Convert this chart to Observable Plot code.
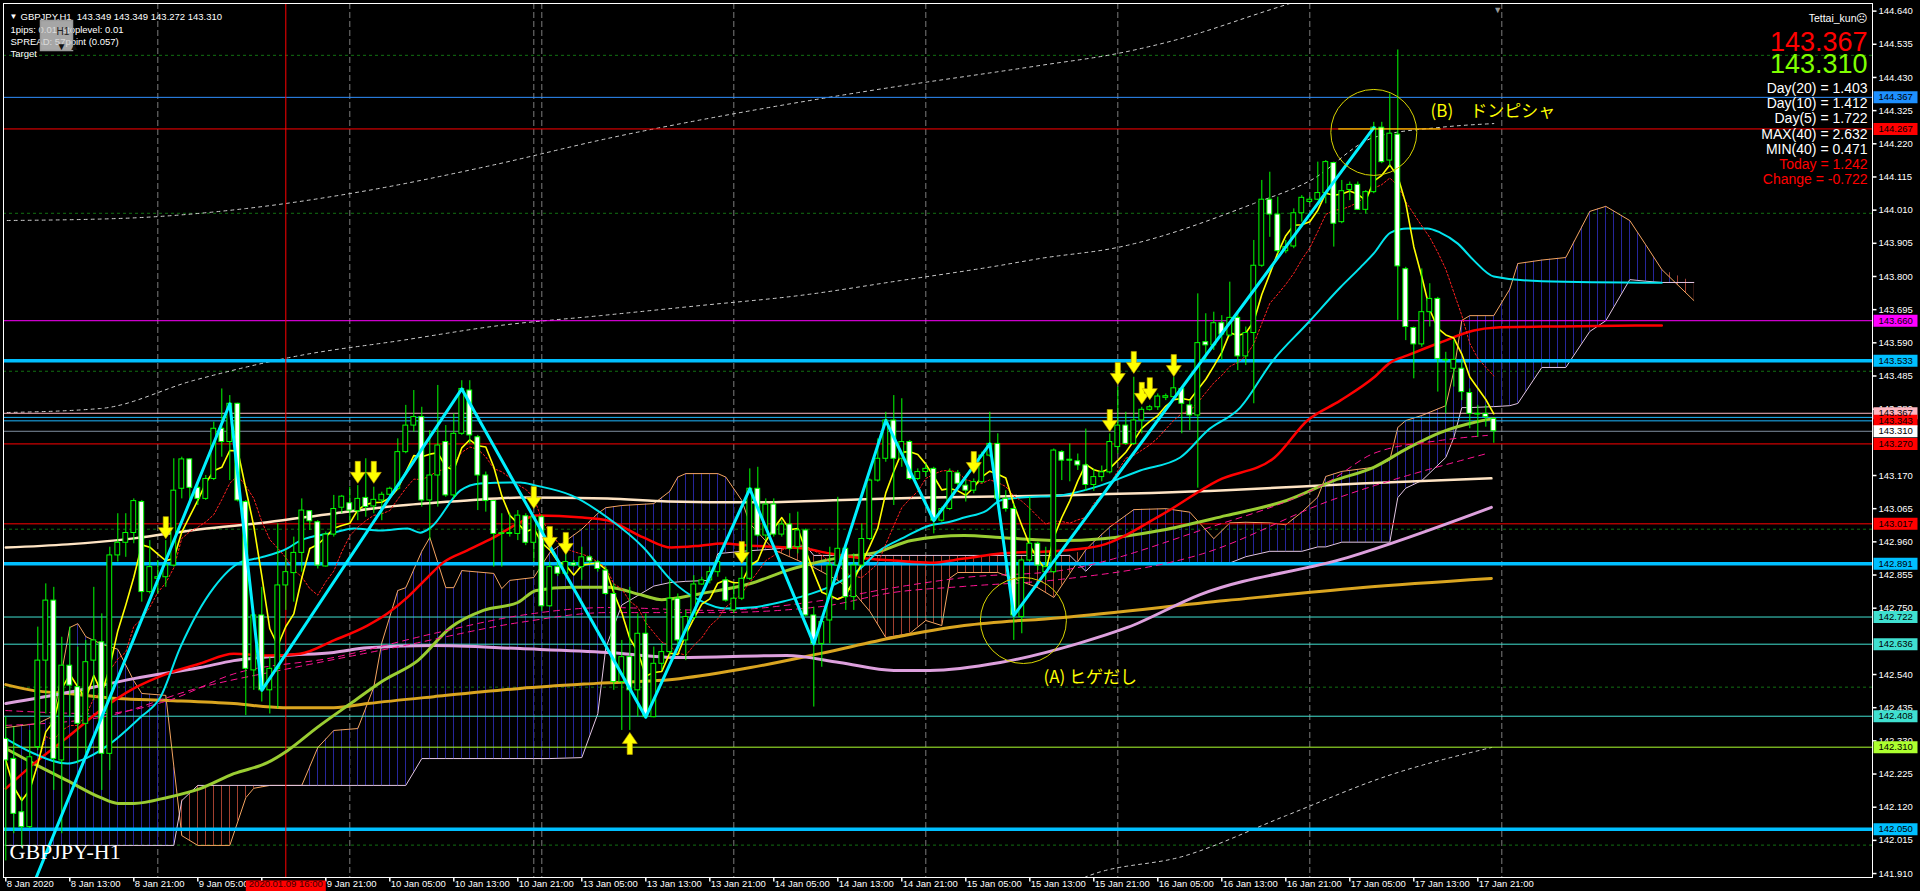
<!DOCTYPE html>
<html><head><meta charset="utf-8">
<script src="https://cdn.jsdelivr.net/npm/d3@7"></script>
<script src="https://cdn.jsdelivr.net/npm/@observablehq/plot@0.6"></script>
<style>
html,body{margin:0;padding:0;background:#000;overflow:hidden;}
#chart svg{display:block;}
</style></head><body>
<svg width="0" height="0" style="position:absolute">
<defs>
<pattern id="hatchBlue" patternUnits="userSpaceOnUse" x="5" y="0" width="8" height="8"><rect x="0" y="0" width="1" height="8" fill="#26269a"/></pattern>
<pattern id="hatchRed" patternUnits="userSpaceOnUse" x="5" y="0" width="8" height="8"><rect x="0" y="0" width="1" height="8" fill="#a2402f"/></pattern>
</defs></svg>
<div id="chart"></div>
<script>
// ---------- candle data (bar 0 = 8 Jan 05:00, hourly) ----------
const opens = [
142.336,142.273,142.104,142.057,142.310,142.584,142.774,142.268,142.568,142.500,
142.384,142.584,142.642,142.289,142.917,142.957,142.988,143.086,142.801,142.843,
142.848,142.885,143.128,143.221,143.131,143.096,143.159,143.318,143.276,143.397,
143.086,142.553,142.727,142.490,142.558,142.822,142.861,142.925,143.057,143.022,
142.882,142.983,143.068,143.082,143.057,143.099,143.072,143.091,143.109,143.128,
143.244,143.328,143.355,143.091,143.170,143.276,143.107,143.302,143.439,143.291,
143.170,143.089,142.985,142.985,142.985,143.041,142.957,143.038,142.756,142.880,
142.859,142.892,142.880,142.911,142.895,142.869,142.795,142.516,142.595,142.490,
142.669,142.405,142.574,142.611,142.780,142.648,142.719,142.825,142.838,142.864,
142.838,142.743,142.780,142.843,143.128,142.980,143.078,142.983,143.015,142.943,
142.996,142.727,142.637,142.711,142.885,142.938,142.785,142.885,142.969,143.154,
143.223,143.344,143.223,143.276,143.159,143.181,143.191,143.027,143.064,143.177,
143.138,143.122,143.149,143.233,143.270,143.096,143.064,142.722,142.901,142.954,
142.864,142.864,143.244,143.220,143.215,143.202,143.140,143.165,143.180,143.260,
143.328,143.270,143.344,143.378,143.386,143.416,143.418,143.444,143.392,143.360,
143.592,143.582,143.652,143.613,143.669,143.547,143.621,143.834,144.043,143.996,
143.880,143.895,144.000,144.036,144.043,144.064,144.159,143.972,144.074,144.090,
144.011,144.067,144.271,144.167,144.249,143.823,143.637,143.585,143.687,143.729,
143.536,143.508,143.508,143.431,143.365,143.365,143.349];
const highs = [
142.405,142.373,142.152,142.363,142.690,142.827,142.816,142.658,142.690,142.627,
142.648,142.816,142.732,142.943,143.049,143.049,143.096,143.091,142.964,142.901,
142.964,143.223,143.228,143.223,143.144,143.170,143.339,143.444,143.423,143.399,
143.091,142.732,142.816,142.595,143.017,142.932,142.975,143.096,143.059,143.027,
142.991,143.107,143.107,143.133,143.138,143.223,143.133,143.117,143.133,143.286,
143.392,143.439,143.386,143.312,143.455,143.328,143.365,143.470,143.470,143.297,
143.181,143.091,143.049,143.049,143.059,143.049,143.043,143.045,142.896,142.900,
142.922,142.901,142.943,142.917,142.901,142.880,142.827,142.648,142.816,142.732,
142.732,142.627,142.637,142.838,142.795,142.743,142.853,142.848,142.880,142.911,
142.848,142.827,142.880,143.191,143.196,143.096,143.096,143.027,143.049,143.054,
143.001,142.753,142.711,142.943,143.101,142.954,142.922,143.017,143.159,143.286,
143.370,143.423,143.413,143.281,143.191,143.207,143.196,143.070,143.191,143.186,
143.154,143.159,143.244,143.370,143.302,143.122,143.080,142.906,143.101,142.959,
142.943,143.254,143.249,143.270,143.238,143.317,143.190,143.200,143.302,143.450,
143.370,143.481,143.386,143.392,143.428,143.428,143.481,143.450,143.407,143.745,
143.682,143.687,143.676,143.782,143.692,143.640,143.914,144.104,144.130,144.051,
143.914,144.014,144.056,144.051,144.162,144.167,144.162,144.104,144.099,144.099,
144.072,144.288,144.288,144.378,144.517,143.829,143.640,143.824,143.777,143.734,
143.560,143.597,143.534,143.444,143.392,143.392,143.349];
const lows = [
141.950,142.036,141.990,142.052,142.299,142.415,142.173,142.036,142.405,142.257,
142.289,142.458,142.173,142.236,142.896,142.911,142.954,142.769,142.795,142.795,
142.816,142.880,143.096,143.091,143.075,143.091,143.154,143.228,143.154,143.086,
142.410,142.490,142.453,142.415,142.431,142.743,142.769,142.864,142.996,142.874,
142.880,142.975,143.049,143.027,143.027,143.038,143.049,143.027,143.101,143.122,
143.239,143.307,143.070,142.964,143.070,143.101,143.096,143.297,143.270,143.059,
143.054,142.880,142.880,142.975,142.964,142.948,142.896,142.740,142.753,142.850,
142.853,142.880,142.838,142.890,142.864,142.790,142.490,142.363,142.363,142.405,
142.403,142.403,142.553,142.595,142.627,142.584,142.711,142.822,142.827,142.848,
142.769,142.732,142.774,142.838,142.975,142.964,142.975,142.975,142.932,142.922,
142.722,142.437,142.563,142.637,142.880,142.743,142.743,142.880,142.964,143.149,
143.212,143.075,143.196,143.154,143.154,143.165,142.985,143.022,143.059,143.133,
143.086,143.112,143.144,143.228,143.091,143.054,142.648,142.669,142.896,142.869,
142.838,142.859,143.154,143.150,143.186,143.120,143.120,143.150,143.175,143.238,
143.265,143.265,143.302,143.374,143.376,143.407,143.413,143.302,143.312,143.130,
143.534,143.566,143.534,143.608,143.502,143.518,143.397,143.829,143.924,143.872,
143.872,143.888,143.972,144.030,144.040,144.030,143.893,143.967,144.040,144.009,
143.998,144.062,144.157,144.146,143.661,143.597,143.476,143.576,143.640,143.434,
143.365,143.450,143.407,143.318,143.291,143.323,143.272];
const closes = [
142.268,142.099,142.057,142.278,142.584,142.774,142.273,142.568,142.505,142.384,
142.579,142.648,142.289,142.917,142.957,142.988,143.089,142.801,142.880,142.848,
142.885,143.122,143.221,143.131,143.096,143.159,143.318,143.276,143.397,143.091,
142.558,142.727,142.490,142.558,142.822,142.864,142.925,143.059,143.025,142.885,
142.983,143.064,143.103,143.059,143.096,143.070,143.093,143.109,143.128,143.244,
143.328,143.355,143.091,143.170,143.265,143.107,143.302,143.444,143.297,143.170,
143.089,142.985,142.987,142.988,143.043,142.957,143.038,142.756,142.880,142.859,
142.896,142.885,142.911,142.898,142.874,142.795,142.516,142.595,142.490,142.669,
142.405,142.574,142.611,142.780,142.648,142.722,142.825,142.838,142.864,142.896,
142.774,142.780,142.843,143.128,142.980,143.078,142.983,143.015,142.938,142.996,
142.727,142.637,142.706,142.885,142.938,142.785,142.885,142.969,143.154,143.223,
143.344,143.223,143.276,143.159,143.181,143.191,143.027,143.064,143.181,143.144,
143.122,143.149,143.233,143.270,143.096,143.064,142.727,142.901,142.954,142.885,
142.880,143.249,143.217,143.217,143.202,143.140,143.165,143.180,143.276,143.328,
143.270,143.344,143.378,143.386,143.420,143.421,143.446,143.397,143.360,143.589,
143.582,143.652,143.616,143.669,143.547,143.621,143.834,144.043,143.996,143.880,
143.893,144.000,144.049,144.043,144.064,144.162,143.967,144.070,144.090,144.011,
144.067,144.271,144.162,144.252,143.832,143.640,143.585,143.687,143.729,143.539,
143.534,143.536,143.434,143.365,143.363,143.355,143.310];

// ---------- indicator lines: [bar, price] ----------
const maCyan = [[0,142.337],[3.5,142.290],[7.7,142.258],[10.2,142.277],[13.1,142.322],[16.8,142.404],[19.3,142.467],[21.8,142.625],[26,142.815],[29.3,142.895],[31.8,142.910],[35.2,142.939],[36.8,142.964],[41,142.989],[43.5,143.002],[46.8,142.996],[50.2,143.002],[51.8,142.989],[53.1,143.005],[56.8,143.122],[59.3,143.145],[64.3,143.148],[66.3,143.138],[70.7,143.107],[75.2,143.037],[79.7,142.942],[83.2,142.838],[86.8,142.774],[90,142.749],[93.1,142.752],[97.6,142.774],[100.7,142.796],[103.8,142.828],[106.5,142.869],[109.2,142.932],[112.3,142.974],[115.5,143.012],[117.6,143.021],[119.8,143.037],[122.6,143.059],[124.3,143.091],[126.9,143.100],[131.8,143.107],[136.8,143.138],[141.8,143.186],[146.8,143.227],[150.2,143.312],[154.3,143.385],[158.4,143.534],[162.7,143.651],[166.8,143.765],[169.3,143.828],[171,143.873],[173.1,143.939],[175.2,143.952],[177.7,143.952],[179.3,143.939],[181.5,143.904],[183.5,143.851],[186,143.800],[192,143.785],[207,143.780]];
const maRed = [[0,142.179],[3.5,142.258],[7.7,142.341],[11.8,142.426],[16,142.496],[20.2,142.543],[24.3,142.575],[28.5,142.606],[32.7,142.600],[36.8,142.606],[41,142.648],[45.2,142.695],[47.7,142.733],[50.2,142.784],[52.7,142.847],[54.7,142.895],[57.7,142.933],[61,142.974],[64,143.018],[66.3,143.043],[72.1,143.037],[75.2,143.028],[79.7,142.974],[83.2,142.942],[86.8,142.948],[89.5,142.955],[93.1,142.948],[99.8,142.939],[103,142.923],[106.5,142.910],[111,142.901],[115.5,142.894],[119.8,142.907],[124.3,142.923],[131.8,142.932],[136.8,142.948],[144.3,143.043],[151.5,143.154],[158.6,143.227],[162.7,143.344],[166.8,143.407],[171,143.480],[173.1,143.528],[175.2,143.550],[179.3,143.591],[183.5,143.629],[186,143.638],[194.3,143.642],[207,143.645]];
const maYellowGreen = [[0,142.306],[3.5,142.258],[7.7,142.204],[11.8,142.151],[14,142.132],[16,142.132],[20.2,142.151],[24.3,142.179],[28.5,142.226],[32.7,142.261],[35.2,142.299],[38.9,142.372],[43.1,142.448],[47.2,142.521],[51.5,142.584],[55.6,142.689],[59.7,142.743],[64,142.768],[66.3,142.806],[70.7,142.816],[75.2,142.816],[79.7,142.790],[82,142.777],[86.8,142.796],[93.1,142.828],[97.6,142.869],[99.8,142.885],[104.2,142.910],[108.7,142.926],[113.2,142.964],[119.8,142.980],[124.3,142.974],[128.8,142.967],[131.8,142.964],[137.1,142.970],[144.3,142.996],[152.5,143.043],[160.1,143.091],[166,143.154],[171,143.196],[175.2,143.256],[179.3,143.306],[183.5,143.338],[186,143.350]];
const maCream = [[0,142.942],[7.7,142.952],[16,142.971],[24.3,143.000],[32.7,143.022],[41,143.050],[49.3,143.075],[57.7,143.091],[64.3,143.100],[75.2,143.097],[82.8,143.088],[93.1,143.085],[106.5,143.094],[115.5,143.100],[131.8,143.107],[152.5,143.123],[169.3,143.145],[185.7,143.161]];
const maOrange = [[0,142.508],[3.5,142.489],[7.7,142.480],[14,142.464],[20.2,142.458],[28.5,142.448],[34.7,142.435],[41,142.435],[45.2,142.448],[53.5,142.470],[64.3,142.496],[73.8,142.512],[84.2,142.527],[93.1,142.562],[101.9,142.607],[111,142.657],[119.8,142.695],[131.8,142.720],[152.5,142.774],[169.3,142.815],[185.7,142.844]];
const maViolet = [[0,142.448],[7.7,142.483],[16,142.527],[24.3,142.562],[28.5,142.584],[34.7,142.600],[41,142.610],[45.2,142.625],[53.5,142.632],[64.3,142.622],[75.2,142.610],[84.2,142.594],[97.6,142.600],[104.2,142.578],[111,142.553],[115.5,142.553],[124.3,142.578],[134,142.638],[140.2,142.689],[149.3,142.793],[167.7,142.910],[185.7,143.069]];
const maPink1 = [[0,142.426],[11.8,142.416],[20.2,142.457],[28.5,142.542],[41,142.594],[53.5,142.670],[64.3,142.727],[75.2,142.752],[88.6,142.743],[101.9,142.774],[111,142.815],[119.8,142.847],[131.8,142.869],[149.3,142.996],[165.6,143.154],[171,143.240],[179.3,143.281],[185.2,143.297]];
const maPink2 = [[0,142.379],[11.8,142.404],[24.3,142.499],[36.8,142.566],[49.3,142.629],[64.3,142.705],[75.2,142.736],[88.6,142.736],[101.9,142.755],[111,142.800],[119.8,142.819],[131.8,142.841],[149.3,142.920],[165.6,143.091],[185.2,143.240]];
const envTop = [[-0.7,143.977],[14.6,143.984],[30,144.015],[45.2,144.072],[60.6,144.151],[75.8,144.240],[91.2,144.316],[106.5,144.382],[129.3,144.468],[139,144.506],[146,144.547],[158.5,144.648],[165,144.700]];
const envMid = [[-0.7,143.369],[11.8,143.382],[23.5,143.471],[36.8,143.550],[49.3,143.597],[61.8,143.645],[74.3,143.676],[86.8,143.708],[99.3,143.740],[111.8,143.787],[124.3,143.835],[129.3,143.857],[139,143.892],[156,144.031],[163.1,144.104],[171,144.240],[179.3,144.272],[186,144.284]];
const envBot = [[133,141.850],[134.8,141.897],[147.5,141.967],[160.1,142.094],[172.8,142.220],[185.7,142.309]];
const zigzag = [[-1,141.600],[28,143.397],[32,142.490],[57,143.444],[80,142.405],[93,143.128],[101,142.637],[110,143.344],[116,143.027],[123,143.270],[126,142.727],[171,144.271]];

// Ichimoku cloud (span A / span B)
const cloudBars = [0,4,6,8,9,10,12,14,16,17,20,21,22,24,28,30,31,33,37,39,41,44,46,47,49,50,52,53,55,56,57,61,62,63,66,68,72,74,75,77,81,83,84,85,88,89,90,92,93,96,100,101,104,106,108,110,113,115,117,118,119,124,129,131,133,135,136,138,141,145,148,151,153,155,158,160,162,164,165,167,171,173,174,175,177,180,181,182,183,186,188,189,192,195,198,200,203,205,207,211];
const spanA = [142.372,142.385,142.410,142.689,142.701,142.660,142.636,142.620,142.520,142.480,142.474,142.250,142.030,141.999,141.999,142.150,142.180,142.189,142.189,142.309,142.363,142.369,142.500,142.640,142.806,142.815,142.930,142.974,142.815,142.815,142.869,142.860,142.812,142.838,142.847,142.926,143.000,143.050,143.068,143.075,143.081,143.120,143.165,143.176,143.176,143.176,143.165,143.091,143.018,142.935,142.890,142.879,142.838,142.800,142.740,142.657,142.670,142.711,142.695,142.845,142.863,142.863,142.815,142.784,142.860,142.935,142.960,143.007,143.062,143.065,143.054,142.970,143.020,143.022,143.020,143.014,143.054,143.102,143.167,143.183,143.196,143.219,143.322,143.344,143.360,143.391,143.500,143.661,143.676,143.676,143.760,143.841,143.852,143.860,144.006,144.022,143.977,143.900,143.822,143.724];
const spanB = [141.999,141.999,141.999,141.999,141.999,141.999,141.999,141.999,141.999,141.999,141.999,141.999,142.141,142.189,142.189,142.189,142.189,142.189,142.189,142.189,142.189,142.189,142.189,142.189,142.189,142.189,142.274,142.274,142.274,142.274,142.274,142.274,142.274,142.274,142.274,142.274,142.277,142.416,142.625,142.760,142.820,142.831,142.833,142.835,142.838,142.923,142.925,142.930,142.932,142.937,142.948,142.917,142.917,142.917,142.917,142.917,142.917,142.917,142.917,142.917,142.917,142.917,142.917,142.917,142.917,142.867,142.893,142.893,142.893,142.893,142.893,142.893,142.893,142.913,142.930,142.930,142.930,142.944,142.944,142.959,142.959,142.959,143.100,143.130,143.154,143.227,143.290,143.385,143.385,143.388,143.391,143.398,143.512,143.512,143.626,143.660,143.790,143.785,143.781,143.781];

// ---------- objects ----------
const hLevels = [144.367,144.267,143.660,143.533,143.367,143.354,143.343,143.310,143.270,143.017,142.891,142.722,142.636,142.408,142.310,142.050];
const hKinds  = ["dodger","red","magenta","thick","pink","sky","sky","grey","red","red","thick","turq","turq","turq","lime","thick"];
const labelLevels = [144.367,144.267,143.660,143.533,143.367,143.343,143.310,143.270,143.017,142.891,142.722,142.636,142.408,142.310,142.050];
const labelKinds  = ["dodger","red","magenta","thick","pink","red","white","red","red","thick","turq","turq","turq","lime","thick"];
const priceTicks = [141.910,142.015,142.120,142.225,142.330,142.435,142.540,142.750,142.855,142.960,143.065,143.170,143.380,143.485,143.590,143.695,143.800,143.905,144.010,144.115,144.220,144.325,144.430,144.535,144.640];
const gridPrices = [142.0,142.5,143.0,143.5,144.0,144.5];
const daySeparators = [19,43,66,67,91,115,139,163,187];
const timeTickBars = [0,8,16,24,32,40,48,56,64,72,80,88,96,104,112,120,128,136,144,152,160,168,176,184];
const timeLabels = ["8 Jan 2020","8 Jan 13:00","8 Jan 21:00","9 Jan 05:00","","9 Jan 21:00","10 Jan 05:00","10 Jan 13:00","10 Jan 21:00","13 Jan 05:00","13 Jan 13:00","13 Jan 21:00","14 Jan 05:00","14 Jan 13:00","14 Jan 21:00","15 Jan 05:00","15 Jan 13:00","15 Jan 21:00","16 Jan 05:00","16 Jan 13:00","16 Jan 21:00","17 Jan 05:00","17 Jan 13:00","17 Jan 21:00"];
const markedBar = 35; const markedLabel = "2020.01.09 16:00";
const arrowDownBars = [20,44,46,66,68,70,92,121,138,139,141,142,143,146];
const arrowDownPrices = [143.005,143.180,143.180,143.100,142.974,142.955,142.926,143.211,143.344,143.493,143.528,143.430,143.445,143.518];
const arrowUpBars = [78]; const arrowUpPrices = [142.322];
const circles = [[171,144.256],[127.2,142.711]];
const yellowSegment = [[166.6,144.267],[179.3,144.267]];
const notes = [{bar:178.1, price:144.322, text:"(B)\u3000ドンピシャ"},{bar:129.7, price:142.530, text:"(A) ヒゲだし"}];
const headerLines = ["GBPJPY,H1\u00a0\u00a0143.349 143.349 143.272 143.310","1pips: 0.01\u00a0\u00a0stoplevel: 0.01","SPREAD: 57point (0.057)","Target"];
const infoLines = ["Day(20) = 1.403","Day(10) = 1.412","Day(5) = 1.722","MAX(40) = 2.632","MIN(40) = 0.471","Today = 1.242","Change = -0.722"];
const infoRed = [false,false,false,false,false,true,true];
const askText = "143.367", bidText = "143.310", userText = "Tettai_kun\u2639", symbolText = "GBPJPY-H1";

// ---------- styles ----------
const lineStyle = {dodger:"#2f8fff", red:"#ff0000", magenta:"#ff00ff", thick:"#00bfff", pink:"#ffb6c1", sky:"#1fb8ff", grey:"#8090a0", turq:"#40e0d0", lime:"#adff2f"};
const boxStyle = {dodger:"#1e90ff", red:"#ff0000", magenta:"#ff00ff", thick:"#00bfff", pink:"#ffb6c1", white:"#ffffff", turq:"#40e0d0", lime:"#adff2f"};
const SANS = "Liberation Sans, Arial, sans-serif";

const candles = opens.map((o,i)=>({i, o, h:highs[i], l:lows[i], c:closes[i]}));
const cloud = cloudBars.map((b,i)=>({bar:b, a:spanA[i], b2:spanB[i]}));
const hLines = hLevels.map((p,i)=>({p, k:hKinds[i]}));
const pLabels = labelLevels.map((p,i)=>({p, k:labelKinds[i]}));
const arrowsDown = arrowDownBars.map((b,i)=>[b, arrowDownPrices[i]]);
const arrowsUp = arrowUpBars.map((b,i)=>[b, arrowUpPrices[i]]);
const timeTicks = timeTickBars.map((b,i)=>({b, t:timeLabels[i]}));

const box = (w,h)=>({draw(ctx){ctx.moveTo(-w/2,-h/2);ctx.lineTo(w/2,-h/2);ctx.lineTo(w/2,h/2);ctx.lineTo(-w/2,h/2);ctx.closePath();}});
const hTick = {draw(ctx){ctx.moveTo(0,0);ctx.lineTo(4,0);}};
const vTick = {draw(ctx){ctx.moveTo(0,0);ctx.lineTo(0,4);}};
const arrowDown = {draw(ctx){ctx.moveTo(-2.6,-11);ctx.lineTo(2.6,-11);ctx.lineTo(2.6,0);ctx.lineTo(7.5,0);ctx.lineTo(0,11);ctx.lineTo(-7.5,0);ctx.lineTo(-2.6,0);ctx.closePath();}};
const arrowUp = {draw(ctx){ctx.moveTo(-2.6,11);ctx.lineTo(2.6,11);ctx.lineTo(2.6,0);ctx.lineTo(7.5,0);ctx.lineTo(0,-11);ctx.lineTo(-7.5,0);ctx.lineTo(-2.6,0);ctx.closePath();}};

const X = d=>d[0], Y = d=>d[1];
const maLine = (data, stroke, w, extra={}) => Plot.line(data, {x:X, y:Y, stroke, strokeWidth:w, curve:"monotone-x", clip:true, ...extra});

const marks = [
  Plot.ruleY(gridPrices, {y:d=>d, stroke:"#127012", strokeDasharray:"3,3"}),
  Plot.ruleX(daySeparators, {x:d=>d, stroke:"#7c7c7c", strokeDasharray:"6,3"}),
  Plot.areaY(cloud, {x:"bar", y1:"b2", y2:d=>Math.max(d.a,d.b2), fill:"url(#hatchBlue)", clip:true}),
  Plot.areaY(cloud, {x:"bar", y1:"a", y2:d=>Math.max(d.a,d.b2), fill:"url(#hatchRed)", clip:true}),
  Plot.line(cloud, {x:"bar", y:"a", stroke:"#f4a460", strokeWidth:1, clip:true}),
  Plot.line(cloud, {x:"bar", y:"b2", stroke:"#e3c6e3", strokeWidth:1, clip:true}),
  maLine(envTop, "#cfcfcf", 1, {strokeDasharray:"3,4"}),
  maLine(envMid, "#cfcfcf", 1, {strokeDasharray:"3,4"}),
  maLine(envBot, "#cfcfcf", 1, {strokeDasharray:"3,4"}),
  Plot.ruleY(hLines, {filter:d=>d.k!=="thick", y:"p", stroke:d=>lineStyle[d.k], strokeWidth:1}),
  Plot.ruleY(hLines, {filter:d=>d.k==="thick", y:"p", stroke:d=>lineStyle[d.k], strokeWidth:3.5}),
  Plot.ruleX([markedBar], {x:d=>d, stroke:"#ff0000", strokeWidth:1}),
  maLine(maOrange, "#daa520", 3),
  maLine(maViolet, "#dda0dd", 3),
  maLine(maCream, "#ffe4c4", 2.5),
  maLine(maYellowGreen, "#9acd32", 3),
  maLine(maPink1, "#ff1493", 1, {strokeDasharray:"6,5"}),
  maLine(maPink2, "#ff1493", 1, {strokeDasharray:"6,5"}),
  maLine(maRed, "#ff0000", 2.5),
  maLine(maCyan, "#00e5ee", 2),
  Plot.line(candles, Plot.windowY({k:10, anchor:"end", reduce:"mean"}, {x:"i", y:"c", stroke:"#ff2020", strokeWidth:1, strokeDasharray:"2,2", clip:true})),
  Plot.line(candles, Plot.windowY({k:5, anchor:"end", reduce:"mean"}, {x:"i", y:"c", stroke:"#ffff00", strokeWidth:1.6, clip:true})),
  Plot.ruleX(candles, {x:"i", y1:"l", y2:"h", stroke:"#00ff00", strokeWidth:1, clip:true}),
  Plot.rect(candles, {filter:d=>d.c>=d.o, x1:d=>d.i-0.3, x2:d=>d.i+0.3, y1:"o", y2:"c", fill:"#000", stroke:"#00ff00", strokeWidth:1, clip:true}),
  Plot.rect(candles, {filter:d=>d.c<d.o, x1:d=>d.i-0.3, x2:d=>d.i+0.3, y1:"o", y2:"c", fill:"#fff", stroke:"#00ff00", strokeWidth:1, clip:true}),
  Plot.line(zigzag, {x:X, y:Y, stroke:"#00f0ff", strokeWidth:3, clip:true}),
  Plot.dot(arrowsDown, {x:X, y:Y, symbol:arrowDown, fill:"#ffff00", stroke:"#c8a800", strokeWidth:0.6}),
  Plot.dot(arrowsUp, {x:X, y:Y, symbol:arrowUp, fill:"#ffff00", stroke:"#c8a800", strokeWidth:0.6}),
  Plot.line(yellowSegment, {x:X, y:Y, stroke:"#ffff00", strokeWidth:1}),
  Plot.dot(circles, {x:X, y:Y, r:43, stroke:"#d8d400", strokeWidth:1, fill:"none"}),
  Plot.text(notes, {x:"bar", y:"price", text:"text", textAnchor:"start", fill:"#ffff00", fontSize:17, fontFamily:"Noto Sans CJK JP, sans-serif"}),
  Plot.frame({stroke:"#ffffff", strokeWidth:1}),
  // right price axis
  Plot.dot(priceTicks, {y:d=>d, frameAnchor:"right", symbol:hTick, stroke:"#fff", fill:"none"}),
  Plot.text(priceTicks, {y:d=>d, text:d=>d.toFixed(3), frameAnchor:"right", dx:6, textAnchor:"start", fill:"#fff", fontSize:9.5, fontFamily:SANS}),
  Plot.dot(pLabels, {y:"p", frameAnchor:"right", dx:23, symbol:box(44,12), fill:d=>boxStyle[d.k], stroke:"none"}),
  Plot.text(pLabels, {y:"p", text:d=>d.p.toFixed(3), frameAnchor:"right", dx:6, textAnchor:"start", fill:"#000", fontSize:9.5, fontFamily:SANS}),
  // bottom time axis
  Plot.dot(timeTicks, {x:"b", frameAnchor:"bottom", symbol:vTick, stroke:"#fff", fill:"none"}),
  Plot.text(timeTicks, {filter:d=>d.t!=="", x:"b", text:"t", frameAnchor:"bottom", dy:9, dx:1, textAnchor:"start", fill:"#fff", fontSize:9.5, fontFamily:SANS}),
  Plot.dot([markedBar], {x:d=>d, frameAnchor:"bottom", dy:9, symbol:box(80,12), fill:"#ff0000", stroke:"none"}),
  Plot.text([markedLabel], {x:()=>markedBar, text:d=>d, frameAnchor:"bottom", dy:9, fill:"#400000", fontSize:9.5, fontFamily:SANS}),
  Plot.text(["\u25bc"], {x:()=>186.5, frameAnchor:"top", dy:3, fill:"#9a9a9a", fontSize:9}),
  // header (top-left)
  Plot.text(["\u25bc"], {frameAnchor:"top-left", dx:6, dy:10, fill:"#fff", fontSize:8, fontFamily:SANS}),
  ...headerLines.map((t,i)=>Plot.text([t], {frameAnchor:"top-left", dx: i===0?17:7, dy:10+12.3*i, textAnchor:"start", fill:"#fff", fontSize:9.5, fontFamily:SANS})),
  Plot.dot([0], {frameAnchor:"top-left", dx:53, dy:32, symbol:box(32,30), fill:"#cfcfcf", fillOpacity:0.8, stroke:"#9a9a9a"}),
  Plot.text(["H1"], {frameAnchor:"top-left", dx:53, dy:24, fill:"#222", fontSize:10, fontFamily:SANS}),
  Plot.text(["\u25bc \u25b2"], {frameAnchor:"top-left", dx:53, dy:39, fill:"#111", fontSize:10, fontFamily:SANS}),
  // info (top-right)
  Plot.text([userText], {frameAnchor:"top-right", dx:-5, dy:11, textAnchor:"end", fill:"#fff", fontSize:10.5, fontFamily:SANS}),
  Plot.text([askText], {frameAnchor:"top-right", dx:-5, dy:28, textAnchor:"end", fill:"#ff0000", fontSize:27, fontFamily:SANS}),
  Plot.text([bidText], {frameAnchor:"top-right", dx:-5, dy:50.5, textAnchor:"end", fill:"#7fff00", fontSize:27, fontFamily:SANS}),
  ...infoLines.map((t,i)=>Plot.text([t], {frameAnchor:"top-right", dx:-5, dy:79.5+15.2*i, textAnchor:"end", fill: infoRed[i]?"#ff0000":"#fff", fontSize:14, fontFamily:SANS})),
  Plot.text([symbolText], {frameAnchor:"bottom-left", dx:6, dy:-19, textAnchor:"start", fill:"#fff", fontSize:22, fontFamily:"Liberation Serif, Times New Roman, serif"})
];

const chart = Plot.plot({
  width:1920, height:891,
  marginLeft:3, marginRight:48, marginTop:3, marginBottom:14,
  style:{background:"#000", color:"#fff", overflow:"visible"},
  x:{type:"linear", domain:[-0.2875, 233.3375], axis:null},
  y:{type:"linear", domain:[141.8975, 144.6641], axis:null},
  color:{type:"identity"},
  marks
});
document.getElementById("chart").appendChild(chart);
</script></body></html>
